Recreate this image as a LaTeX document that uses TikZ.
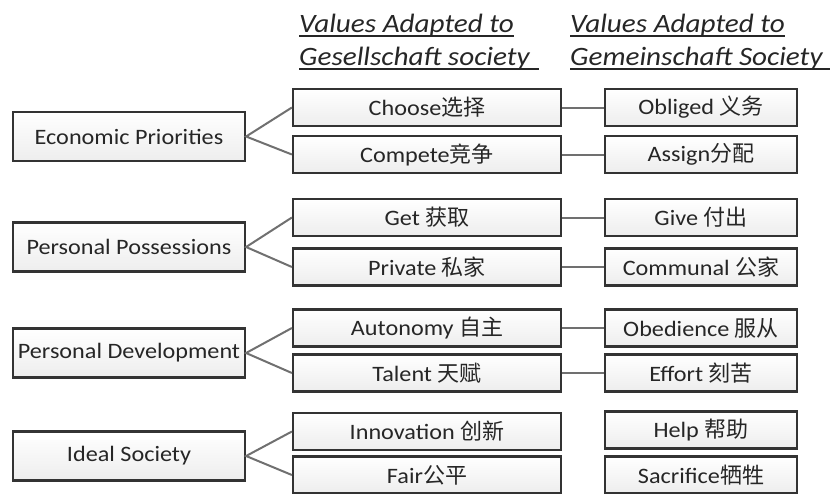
\documentclass[tikz,border=0pt]{standalone}
\usepackage{fontspec}
\setmainfont{Carlito}[FakeStretch=1.1]
\newfontfamily\cjk{Noto Sans CJK SC}
\definecolor{inkc}{HTML}{262626}
\definecolor{framec}{HTML}{333333}
\definecolor{linkc}{HTML}{707070}
% underline drawn at a fixed depth below the baseline
\newcommand\ulinetext[1]{\setbox0\hbox{#1}\rlap{\rule[-4.5pt]{\wd0}{1.6pt}}\box0}
\begin{document}
\begin{tikzpicture}[x=1pt,y=-1pt,
  every node/.style={text=inkc},
  box/.style={draw=framec, line width=2.2pt, rectangle, inner sep=0pt,
    top color=white, bottom color=gray!14, minimum height=37pt,
    font=\fontsize{22}{26}\selectfont},
  topic/.style={box, minimum width=232pt, minimum height=49pt},
  gesell/.style={box, minimum width=268pt},
  gemein/.style={box, minimum width=192pt},
  fan/.style={draw=linkc, line width=2pt},
  link/.style={draw=linkc, line width=2pt},
  head/.style={anchor=base west, inner sep=0pt,
    font=\fontsize{26.5}{31}\selectfont\itshape}]
\useasboundingbox (0,0) rectangle (830,493);

% column headings
\node[head] (h1a) at (299,32) {\ulinetext{Values Adapted to}};
\node[head] (h1b) at (299,65) {\ulinetext{Gesellschaft society\hspace{9pt}}};
\node[head] (h2a) at (570,32) {\ulinetext{Values Adapted to}};
\node[head] (h2b) at (570,65) {\ulinetext{Gemeinschaft Society\hspace{9pt}}};

% economic priorities
\node[topic]  (t1) at (129,136.5) {Economic Priorities};
\node[gesell] (a1) at (427,107.5) {Choose{\cjk 选择}};
\node[gesell] (b1) at (427,154.5) {Compete{\cjk 竞争}};
\node[gemein] (c1) at (701,107.5) {Obliged {\cjk 义务}};
\node[gemein] (d1) at (701,154.5) {Assign{\cjk 分配}};

% personal possessions
\node[topic]  (t2) at (129,247) {Personal Possessions};
\node[gesell] (a2) at (427,217.5) {Get {\cjk 获取}};
\node[gesell] (b2) at (427,267) {Private {\cjk 私家}};
\node[gemein] (c2) at (701,217.5) {Give {\cjk 付出}};
\node[gemein] (d2) at (701,267) {Communal {\cjk 公家}};

% personal development
\node[topic]  (t3) at (129,353) {Personal Development};
\node[gesell] (a3) at (427,328) {Autonomy {\cjk 自主}};
\node[gesell] (b3) at (427,373) {Talent {\cjk 天赋}};
\node[gemein] (c3) at (701,328) {Obedience {\cjk 服从}};
\node[gemein] (d3) at (701,373) {Effort {\cjk 刻苦}};

% ideal society
\node[topic]  (t4) at (129,456) {Ideal Society};
\node[gesell] (a4) at (427,431.5) {Innovation {\cjk 创新}};
\node[gesell] (b4) at (427,475) {Fair{\cjk 公平}};
\node[gemein] (c4) at (701,430) {Help {\cjk 帮助}};
\node[gemein] (d4) at (701,475) {Sacrifice{\cjk 牺牲}};

% fans from each topic to its two values
\foreach \i in {1,2,3,4}{
  \draw[fan] (a\i.west) -- (t\i.east) -- (b\i.west);
}
% links between paired values
\foreach \i in {1,2,3}{
  \draw[link] (a\i.east) -- (c\i.west);
  \draw[link] (b\i.east) -- (d\i.west);
}
\end{tikzpicture}
\end{document}
